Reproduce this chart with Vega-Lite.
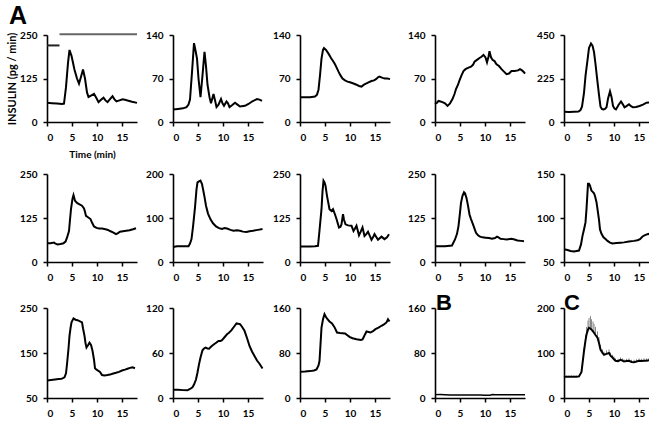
{
  "$schema": "https://vega.github.io/schema/vega-lite/v6.json",
  "background": "white",
  "padding": {"left": 6, "top": 4, "right": 2, "bottom": 2},
  "title": {"text": "A", "anchor": "start", "fontSize": 25, "font": "Liberation Sans", "fontWeight": "bold", "color": "#000", "offset": 1, "dx": 3},
  "config": {
    "view": {"stroke": null},
    "axis": {"grid": false, "labelOverlap": false, "domainColor": "#000", "domainWidth": 1.6, "tickColor": "#000", "tickWidth": 1.5, "tickSize": 4, "labelFont": "Lato", "labelFontWeight": "bold", "labelFontSize": 10, "labelColor": "#000", "labelPadding": 6, "titleFont": "Lato", "titleFontWeight": "bold", "titleFontSize": 10, "titleColor": "#000"},
    "axisY": {"minExtent": 30},
    "line": {"color": "#000", "strokeWidth": 2}
  },
  "columns": 5,
  "spacing": {"row": 10, "column": 2},
  "datasets": {
    "stim": [{"phase": "low", "t0": 0, "t1": 2.5, "v": 220}, {"phase": "high", "t0": 2.5, "t1": 18, "v": 252}],
    "p1": [{"t":0,"v":55},{"t":1,"v":54},{"t":2,"v":53},{"t":3,"v":52},{"t":3.4,"v":53},{"t":3.8,"v":100},{"t":4.2,"v":170},{"t":4.5,"v":207},{"t":4.9,"v":190},{"t":5.5,"v":150},{"t":6,"v":125},{"t":6.4,"v":110},{"t":6.8,"v":130},{"t":7.2,"v":151},{"t":7.6,"v":125},{"t":8,"v":85},{"t":8.3,"v":72},{"t":8.8,"v":76},{"t":9.4,"v":81},{"t":9.9,"v":68},{"t":10.3,"v":57},{"t":10.8,"v":64},{"t":11.3,"v":70},{"t":11.7,"v":62},{"t":12.1,"v":57},{"t":12.6,"v":66},{"t":13.1,"v":74},{"t":13.5,"v":65},{"t":13.9,"v":59},{"t":14.5,"v":62},{"t":15.1,"v":65},{"t":15.6,"v":64},{"t":16.1,"v":62},{"t":17,"v":58},{"t":18,"v":55}],
    "p2": [{"t":0,"v":20},{"t":1,"v":21},{"t":2,"v":22},{"t":2.7,"v":24},{"t":3.1,"v":28},{"t":3.4,"v":36},{"t":3.8,"v":80},{"t":4.2,"v":127},{"t":4.5,"v":115},{"t":4.8,"v":102},{"t":5.1,"v":70},{"t":5.5,"v":40},{"t":5.9,"v":75},{"t":6.3,"v":113},{"t":6.6,"v":90},{"t":6.9,"v":60},{"t":7.3,"v":40},{"t":7.6,"v":30},{"t":8.1,"v":45},{"t":8.4,"v":35},{"t":8.7,"v":24},{"t":9.1,"v":28},{"t":9.6,"v":37},{"t":9.9,"v":30},{"t":10.2,"v":26},{"t":10.7,"v":33},{"t":11,"v":30},{"t":11.3,"v":24},{"t":11.8,"v":27},{"t":12.4,"v":31},{"t":12.9,"v":28},{"t":13.4,"v":25},{"t":14.4,"v":26},{"t":15.1,"v":29},{"t":15.8,"v":33},{"t":16.8,"v":37},{"t":17.3,"v":36},{"t":17.8,"v":34}],
    "p3": [{"t":0,"v":40},{"t":1,"v":40},{"t":2,"v":40},{"t":3,"v":41},{"t":3.4,"v":44},{"t":3.7,"v":52},{"t":4,"v":75},{"t":4.3,"v":102},{"t":4.6,"v":116},{"t":4.8,"v":119},{"t":5.2,"v":116},{"t":5.7,"v":110},{"t":6.2,"v":103},{"t":6.7,"v":97},{"t":7,"v":93},{"t":7.3,"v":88},{"t":7.7,"v":81},{"t":8.1,"v":75},{"t":8.5,"v":70},{"t":9,"v":67},{"t":9.5,"v":65},{"t":10,"v":64},{"t":10.7,"v":62},{"t":11.3,"v":60},{"t":11.8,"v":58},{"t":12.3,"v":57},{"t":12.8,"v":60},{"t":13.3,"v":62},{"t":13.8,"v":64},{"t":14.3,"v":66},{"t":14.8,"v":67},{"t":15.2,"v":69},{"t":15.6,"v":72},{"t":15.9,"v":73},{"t":16.5,"v":71},{"t":17,"v":70},{"t":17.5,"v":70},{"t":18,"v":69}],
    "p4": [{"t":0,"v":29},{"t":0.4,"v":31},{"t":0.7,"v":34},{"t":1.1,"v":33},{"t":1.5,"v":32},{"t":2,"v":30},{"t":2.5,"v":26},{"t":3,"v":30},{"t":3.5,"v":37},{"t":3.9,"v":45},{"t":4.2,"v":53},{"t":4.6,"v":60},{"t":4.9,"v":67},{"t":5.3,"v":75},{"t":5.7,"v":82},{"t":6.1,"v":85},{"t":6.6,"v":87},{"t":7.2,"v":89},{"t":7.6,"v":92},{"t":7.9,"v":97},{"t":8.4,"v":100},{"t":8.9,"v":103},{"t":9.3,"v":105},{"t":9.7,"v":108},{"t":10.1,"v":104},{"t":10.4,"v":96},{"t":10.7,"v":105},{"t":10.9,"v":114},{"t":11.2,"v":104},{"t":11.5,"v":100},{"t":11.9,"v":98},{"t":12.3,"v":93},{"t":12.8,"v":90},{"t":13.3,"v":85},{"t":13.8,"v":81},{"t":14.3,"v":77},{"t":14.8,"v":78},{"t":15.3,"v":82},{"t":15.9,"v":82},{"t":16.6,"v":83},{"t":17,"v":85},{"t":17.4,"v":83},{"t":17.8,"v":80},{"t":18,"v":78}],
    "p5": [{"t":0,"v":53},{"t":1,"v":52},{"t":2,"v":53},{"t":2.9,"v":54},{"t":3.3,"v":62},{"t":3.6,"v":79},{"t":4,"v":150},{"t":4.3,"v":238},{"t":4.7,"v":320},{"t":5,"v":383},{"t":5.4,"v":406},{"t":5.7,"v":395},{"t":6,"v":362},{"t":6.3,"v":300},{"t":6.6,"v":229},{"t":7,"v":140},{"t":7.3,"v":79},{"t":7.6,"v":67},{"t":7.9,"v":65},{"t":8.2,"v":68},{"t":8.5,"v":76},{"t":8.8,"v":120},{"t":9.2,"v":159},{"t":9.5,"v":130},{"t":9.8,"v":83},{"t":10.1,"v":70},{"t":10.4,"v":65},{"t":10.9,"v":88},{"t":11.4,"v":106},{"t":11.8,"v":90},{"t":12.1,"v":76},{"t":12.5,"v":82},{"t":13,"v":92},{"t":13.4,"v":82},{"t":13.8,"v":76},{"t":14.4,"v":78},{"t":15.1,"v":83},{"t":15.8,"v":90},{"t":16.5,"v":100},{"t":17.2,"v":102},{"t":18,"v":102}],
    "p6": [{"t":0,"v":53},{"t":0.7,"v":53},{"t":1.4,"v":55},{"t":1.7,"v":52},{"t":2.1,"v":50},{"t":2.7,"v":51},{"t":3.3,"v":53},{"t":3.7,"v":58},{"t":4,"v":69},{"t":4.4,"v":88},{"t":4.6,"v":120},{"t":4.8,"v":150},{"t":5.1,"v":180},{"t":5.3,"v":190},{"t":5.6,"v":174},{"t":6,"v":168},{"t":6.5,"v":164},{"t":7,"v":160},{"t":7.4,"v":152},{"t":7.6,"v":143},{"t":7.8,"v":131},{"t":8.2,"v":127},{"t":8.7,"v":122},{"t":9,"v":112},{"t":9.4,"v":101},{"t":9.9,"v":97},{"t":10.4,"v":95},{"t":11,"v":95},{"t":11.7,"v":93},{"t":12.2,"v":91},{"t":12.6,"v":88},{"t":13.2,"v":84},{"t":13.8,"v":79},{"t":14.2,"v":82},{"t":14.6,"v":86},{"t":15.5,"v":88},{"t":16.5,"v":90},{"t":17.2,"v":93},{"t":17.8,"v":96}],
    "p7": [{"t":0,"v":34},{"t":0.8,"v":36},{"t":2,"v":36},{"t":3.1,"v":36},{"t":3.4,"v":42},{"t":3.7,"v":52},{"t":4,"v":80},{"t":4.4,"v":124},{"t":4.7,"v":165},{"t":4.9,"v":181},{"t":5.2,"v":183},{"t":5.5,"v":185},{"t":5.8,"v":177},{"t":6,"v":166},{"t":6.3,"v":148},{"t":6.6,"v":128},{"t":7,"v":110},{"t":7.5,"v":97},{"t":8,"v":88},{"t":8.6,"v":81},{"t":9.2,"v":77},{"t":9.8,"v":75},{"t":10.3,"v":77},{"t":10.8,"v":76},{"t":11.5,"v":73},{"t":12.1,"v":71},{"t":12.8,"v":72},{"t":13.4,"v":71},{"t":14,"v":69},{"t":14.7,"v":68},{"t":15.3,"v":70},{"t":16,"v":71},{"t":17,"v":73},{"t":17.9,"v":75}],
    "p8": [{"t":0,"v":44},{"t":1,"v":44},{"t":2,"v":44},{"t":3,"v":45},{"t":3.6,"v":46},{"t":3.9,"v":90},{"t":4.3,"v":150},{"t":4.5,"v":200},{"t":4.7,"v":231},{"t":4.9,"v":226},{"t":5.1,"v":217},{"t":5.4,"v":188},{"t":5.9,"v":150},{"t":6.3,"v":145},{"t":6.6,"v":150},{"t":7,"v":135},{"t":7.3,"v":122},{"t":7.8,"v":98},{"t":8.1,"v":100},{"t":8.3,"v":107},{"t":8.6,"v":136},{"t":8.8,"v":120},{"t":9.1,"v":107},{"t":9.6,"v":104},{"t":10.3,"v":103},{"t":10.7,"v":88},{"t":11,"v":95},{"t":11.3,"v":103},{"t":11.8,"v":76},{"t":12.1,"v":85},{"t":12.5,"v":98},{"t":12.9,"v":74},{"t":13.3,"v":80},{"t":13.6,"v":86},{"t":14.3,"v":63},{"t":14.6,"v":70},{"t":14.9,"v":79},{"t":15.6,"v":63},{"t":16.3,"v":72},{"t":16.9,"v":65},{"t":17.4,"v":70},{"t":17.8,"v":79}],
    "p9": [{"t":0,"v":45},{"t":1,"v":45},{"t":2,"v":45},{"t":3.4,"v":47},{"t":4,"v":64},{"t":4.4,"v":80},{"t":4.7,"v":102},{"t":5,"v":140},{"t":5.2,"v":168},{"t":5.5,"v":188},{"t":5.8,"v":198},{"t":6,"v":195},{"t":6.3,"v":182},{"t":6.6,"v":160},{"t":6.9,"v":135},{"t":7.2,"v":122},{"t":7.6,"v":107},{"t":7.9,"v":95},{"t":8.2,"v":83},{"t":8.6,"v":76},{"t":9,"v":72},{"t":9.5,"v":70},{"t":10.1,"v":69},{"t":10.8,"v":68},{"t":11.4,"v":66},{"t":12,"v":68},{"t":12.4,"v":72},{"t":12.7,"v":70},{"t":13.1,"v":66},{"t":13.7,"v":65},{"t":14.3,"v":64},{"t":15.3,"v":66},{"t":15.9,"v":64},{"t":16.5,"v":61},{"t":17.2,"v":60},{"t":17.8,"v":59}],
    "p10": [{"t":0,"v":64.4},{"t":0.7,"v":63.7},{"t":1.3,"v":62.5},{"t":2,"v":62},{"t":3,"v":63},{"t":3.4,"v":70},{"t":3.7,"v":79.7},{"t":4,"v":87},{"t":4.3,"v":95},{"t":4.5,"v":110},{"t":4.8,"v":139},{"t":5,"v":139},{"t":5.2,"v":136.7},{"t":5.5,"v":131},{"t":5.7,"v":130},{"t":6,"v":128},{"t":6.2,"v":125},{"t":6.5,"v":118},{"t":6.7,"v":110},{"t":7,"v":98},{"t":7.2,"v":87},{"t":7.5,"v":82},{"t":7.9,"v":78},{"t":8.3,"v":76},{"t":8.7,"v":74},{"t":9.2,"v":72},{"t":9.7,"v":71},{"t":10.5,"v":71.5},{"t":11.3,"v":72},{"t":12,"v":72.3},{"t":13,"v":73.2},{"t":14,"v":74},{"t":14.7,"v":74.7},{"t":15.2,"v":76},{"t":15.7,"v":79},{"t":16.2,"v":80.5},{"t":16.7,"v":81.6},{"t":17.3,"v":82.3},{"t":17.9,"v":82.7}],
    "p11": [{"t":0,"v":89},{"t":0.8,"v":90},{"t":1.6,"v":91},{"t":2.3,"v":92},{"t":2.9,"v":92.5},{"t":3.5,"v":96},{"t":3.8,"v":105},{"t":4,"v":125},{"t":4.3,"v":160},{"t":4.5,"v":188},{"t":4.7,"v":205},{"t":4.9,"v":218},{"t":5.3,"v":227},{"t":5.7,"v":224},{"t":6.1,"v":223},{"t":6.5,"v":221},{"t":7,"v":218},{"t":7.2,"v":205},{"t":7.5,"v":188},{"t":7.7,"v":172},{"t":7.9,"v":162},{"t":8.2,"v":167},{"t":8.5,"v":173},{"t":8.8,"v":168},{"t":9.1,"v":155},{"t":9.4,"v":135},{"t":9.6,"v":116},{"t":9.9,"v":113},{"t":10.2,"v":111},{"t":10.6,"v":108},{"t":11,"v":101},{"t":11.5,"v":100},{"t":12.1,"v":101},{"t":12.6,"v":102},{"t":13.1,"v":104},{"t":13.8,"v":106},{"t":14.4,"v":108},{"t":15,"v":111},{"t":15.6,"v":113},{"t":16.1,"v":115},{"t":16.6,"v":117},{"t":17.1,"v":118},{"t":17.6,"v":116}],
    "p12": [{"t":0,"v":11},{"t":1,"v":11},{"t":2,"v":10.5},{"t":2.9,"v":10.3},{"t":3.4,"v":12},{"t":3.9,"v":14.3},{"t":4.2,"v":18},{"t":4.6,"v":24.6},{"t":4.9,"v":34},{"t":5.2,"v":44.8},{"t":5.5,"v":54},{"t":5.9,"v":63.6},{"t":6.2,"v":66},{"t":6.5,"v":67.2},{"t":6.9,"v":66},{"t":7.2,"v":65.8},{"t":7.7,"v":69},{"t":8.2,"v":71.6},{"t":8.7,"v":74},{"t":9.1,"v":76.1},{"t":9.5,"v":76},{"t":9.8,"v":77},{"t":10.3,"v":81},{"t":10.8,"v":85},{"t":11.2,"v":87},{"t":11.7,"v":90.4},{"t":12.2,"v":95},{"t":12.7,"v":99.4},{"t":13,"v":99},{"t":13.4,"v":98.5},{"t":13.8,"v":95},{"t":14.3,"v":89.6},{"t":14.8,"v":80},{"t":15.3,"v":69.4},{"t":15.8,"v":62},{"t":16.3,"v":56},{"t":16.8,"v":50},{"t":17.3,"v":45.7},{"t":17.9,"v":39.4}],
    "p13": [{"t":0,"v":46.6},{"t":1,"v":47},{"t":2,"v":47.8},{"t":2.8,"v":49},{"t":3.3,"v":50.7},{"t":3.7,"v":58},{"t":3.9,"v":65.7},{"t":4.1,"v":95},{"t":4.3,"v":125},{"t":4.6,"v":140},{"t":4.9,"v":149},{"t":5.2,"v":144},{"t":5.5,"v":140},{"t":5.9,"v":136},{"t":6.4,"v":132.5},{"t":6.9,"v":126},{"t":7.4,"v":116.4},{"t":8,"v":115.5},{"t":9,"v":114.6},{"t":9.9,"v":108.7},{"t":10.5,"v":106.3},{"t":11.3,"v":104.5},{"t":12.2,"v":103.3},{"t":12.5,"v":104},{"t":12.7,"v":107.5},{"t":13,"v":113},{"t":13.3,"v":118.2},{"t":14.1,"v":116.4},{"t":14.6,"v":119},{"t":15.1,"v":122.4},{"t":15.7,"v":125},{"t":16.3,"v":128.4},{"t":16.8,"v":131},{"t":17.3,"v":134.3},{"t":17.6,"v":140},{"t":17.9,"v":136}],
    "p14": [{"t":0,"v":6},{"t":1,"v":6.2},{"t":2,"v":5.8},{"t":3,"v":5.5},{"t":4,"v":5.4},{"t":5,"v":5.3},{"t":6,"v":5.2},{"t":7,"v":5.3},{"t":8,"v":5.4},{"t":9,"v":5.2},{"t":10,"v":5},{"t":11,"v":4.8},{"t":11.5,"v":6},{"t":12,"v":5.8},{"t":13,"v":5.8},{"t":14,"v":5.6},{"t":15,"v":5.8},{"t":16,"v":5.7},{"t":17,"v":5.8},{"t":18,"v":5.8}],
    "p15": [{"t":0,"v":47,"hi":50},{"t":0.5,"v":47,"hi":50},{"t":1,"v":47,"hi":50},{"t":1.5,"v":47,"hi":50},{"t":2,"v":47,"hi":50},{"t":2.5,"v":47,"hi":50},{"t":3,"v":48,"hi":51},{"t":3.5,"v":58,"hi":62},{"t":4,"v":104,"hi":112},{"t":4.3,"v":128,"hi":140},{"t":4.5,"v":141,"hi":158},{"t":4.8,"v":152,"hi":172},{"t":5,"v":156,"hi":178},{"t":5.3,"v":154,"hi":182},{"t":5.5,"v":152,"hi":175},{"t":5.8,"v":148,"hi":170},{"t":6,"v":145,"hi":165},{"t":6.3,"v":140,"hi":158},{"t":6.7,"v":134,"hi":148},{"t":7,"v":122,"hi":135},{"t":7.3,"v":107.5,"hi":118},{"t":7.7,"v":100,"hi":108},{"t":8,"v":96,"hi":103},{"t":8.5,"v":98,"hi":106},{"t":9,"v":100,"hi":108},{"t":9.3,"v":94,"hi":101},{"t":9.7,"v":90,"hi":96},{"t":10,"v":86,"hi":92},{"t":10.3,"v":82.7,"hi":88},{"t":10.8,"v":82,"hi":87},{"t":11.3,"v":85,"hi":90},{"t":11.7,"v":83,"hi":88},{"t":12,"v":81,"hi":86},{"t":12.5,"v":82,"hi":87},{"t":13,"v":82.7,"hi":88},{"t":13.5,"v":80,"hi":85},{"t":14,"v":79.7,"hi":85},{"t":14.5,"v":81,"hi":86},{"t":15,"v":82.7,"hi":88},{"t":15.5,"v":82,"hi":87},{"t":16,"v":82.7,"hi":88},{"t":16.5,"v":83,"hi":88},{"t":17,"v":84,"hi":89},{"t":17.5,"v":84,"hi":89},{"t":18,"v":85,"hi":90}]
  },
  "concat": [
    {"width": 90, "height": 87, "layer": [
      {"data": {"name": "p1"}, "mark": {"type": "line"}, "encoding": {
        "x": {"field": "t", "type": "quantitative", "scale": {"domain": [0, 18]}, "axis": {"values": [0, 5, 10, 15], "title": "Time (min)", "titlePadding": 7}},
        "y": {"field": "v", "type": "quantitative", "scale": {"domain": [0, 250]}, "axis": {"values": [0, 125, 250], "title": "INSULIN (pg / min)", "titleFontSize": 11, "titlePadding": 0}}}},
      {"data": {"name": "stim"}, "mark": {"type": "rule", "strokeWidth": 2}, "encoding": {
        "x": {"field": "t0", "type": "quantitative", "scale": {"domain": [0, 18]}, "axis": {"values": [0, 5, 10, 15], "title": "Time (min)", "titlePadding": 7}}, "x2": {"field": "t1"},
        "y": {"field": "v", "type": "quantitative", "scale": {"domain": [0, 250]}, "axis": {"values": [0, 125, 250], "title": "INSULIN (pg / min)", "titleFontSize": 11, "titlePadding": 0}},
        "color": {"field": "phase", "type": "nominal", "scale": {"domain": ["low", "high"], "range": ["#222222", "#666666"]}, "legend": null}}}
    ]},
    {"width": 90, "height": 87, "data": {"name": "p2"}, "mark": {"type": "line"}, "encoding": {
      "x": {"field": "t", "type": "quantitative", "scale": {"domain": [0, 18]}, "axis": {"values": [0, 5, 10, 15], "title": null}},
      "y": {"field": "v", "type": "quantitative", "scale": {"domain": [0, 140]}, "axis": {"values": [0, 70, 140], "title": null}}}},
    {"width": 90, "height": 87, "data": {"name": "p3"}, "mark": {"type": "line"}, "encoding": {
      "x": {"field": "t", "type": "quantitative", "scale": {"domain": [0, 18]}, "axis": {"values": [0, 5, 10, 15], "title": null}},
      "y": {"field": "v", "type": "quantitative", "scale": {"domain": [0, 140]}, "axis": {"values": [0, 70, 140], "title": null, "minExtent": 31}}}},
    {"width": 90, "height": 87, "data": {"name": "p4"}, "mark": {"type": "line"}, "encoding": {
      "x": {"field": "t", "type": "quantitative", "scale": {"domain": [0, 18]}, "axis": {"values": [0, 5, 10, 15], "title": null}},
      "y": {"field": "v", "type": "quantitative", "scale": {"domain": [0, 140]}, "axis": {"values": [0, 70, 140], "title": null, "minExtent": 39}}}},
    {"width": 90, "height": 87, "data": {"name": "p5"}, "mark": {"type": "line"}, "encoding": {
      "x": {"field": "t", "type": "quantitative", "scale": {"domain": [0, 18]}, "axis": {"values": [0, 5, 10, 15], "title": null}},
      "y": {"field": "v", "type": "quantitative", "scale": {"domain": [0, 450]}, "axis": {"values": [0, 225, 450], "title": null, "minExtent": 33}}}},
    {"width": 90, "height": 88, "data": {"name": "p6"}, "mark": {"type": "line"}, "encoding": {
      "x": {"field": "t", "type": "quantitative", "scale": {"domain": [0, 18]}, "axis": {"values": [0, 5, 10, 15], "title": null}},
      "y": {"field": "v", "type": "quantitative", "scale": {"domain": [0, 250]}, "axis": {"values": [0, 125, 250], "title": null}}}},
    {"width": 90, "height": 88, "data": {"name": "p7"}, "mark": {"type": "line"}, "encoding": {
      "x": {"field": "t", "type": "quantitative", "scale": {"domain": [0, 18]}, "axis": {"values": [0, 5, 10, 15], "title": null}},
      "y": {"field": "v", "type": "quantitative", "scale": {"domain": [0, 200]}, "axis": {"values": [0, 100, 200], "title": null}}}},
    {"width": 90, "height": 88, "data": {"name": "p8"}, "mark": {"type": "line"}, "encoding": {
      "x": {"field": "t", "type": "quantitative", "scale": {"domain": [0, 18]}, "axis": {"values": [0, 5, 10, 15], "title": null}},
      "y": {"field": "v", "type": "quantitative", "scale": {"domain": [0, 250]}, "axis": {"values": [0, 125, 250], "title": null, "minExtent": 31}}}},
    {"width": 90, "height": 88, "data": {"name": "p9"}, "mark": {"type": "line"}, "encoding": {
      "x": {"field": "t", "type": "quantitative", "scale": {"domain": [0, 18]}, "axis": {"values": [0, 5, 10, 15], "title": null}},
      "y": {"field": "v", "type": "quantitative", "scale": {"domain": [0, 250]}, "axis": {"values": [0, 125, 250], "title": null, "minExtent": 39}}}},
    {"width": 90, "height": 88, "data": {"name": "p10"}, "mark": {"type": "line"}, "encoding": {
      "x": {"field": "t", "type": "quantitative", "scale": {"domain": [0, 18]}, "axis": {"values": [0, 5, 10, 15], "title": null}},
      "y": {"field": "v", "type": "quantitative", "scale": {"domain": [50, 150]}, "axis": {"values": [50, 100, 150], "title": null, "minExtent": 33}}}},
    {"width": 90, "height": 90, "data": {"name": "p11"}, "mark": {"type": "line"}, "encoding": {
      "x": {"field": "t", "type": "quantitative", "scale": {"domain": [0, 18]}, "axis": {"values": [0, 5, 10, 15], "title": null}},
      "y": {"field": "v", "type": "quantitative", "scale": {"domain": [50, 250]}, "axis": {"values": [50, 150, 250], "title": null}}}},
    {"width": 90, "height": 90, "data": {"name": "p12"}, "mark": {"type": "line"}, "encoding": {
      "x": {"field": "t", "type": "quantitative", "scale": {"domain": [0, 18]}, "axis": {"values": [0, 5, 10, 15], "title": null}},
      "y": {"field": "v", "type": "quantitative", "scale": {"domain": [0, 120]}, "axis": {"values": [0, 60, 120], "title": null}}}},
    {"width": 90, "height": 90, "data": {"name": "p13"}, "mark": {"type": "line"}, "encoding": {
      "x": {"field": "t", "type": "quantitative", "scale": {"domain": [0, 18]}, "axis": {"values": [0, 5, 10, 15], "title": null}},
      "y": {"field": "v", "type": "quantitative", "scale": {"domain": [0, 160]}, "axis": {"values": [0, 80, 160], "title": null, "minExtent": 31}}}},
    {"width": 90, "height": 90, "title": {"text": "B", "anchor": "start", "frame": "group", "fontSize": 22, "font": "Liberation Sans", "fontWeight": "bold", "color": "#000", "offset": -12, "dx": 1},
      "data": {"name": "p14"}, "mark": {"type": "line", "strokeWidth": 1.5}, "encoding": {
      "x": {"field": "t", "type": "quantitative", "scale": {"domain": [0, 18]}, "axis": {"values": [0, 5, 10, 15], "title": null}},
      "y": {"field": "v", "type": "quantitative", "scale": {"domain": [0, 160]}, "axis": {"values": [0, 80, 160], "title": null, "minExtent": 39}}}},
    {"width": 90, "height": 90, "title": {"text": "C", "anchor": "start", "frame": "group", "fontSize": 22, "font": "Liberation Sans", "fontWeight": "bold", "color": "#000", "offset": -12, "dx": 0},
      "layer": [
      {"data": {"name": "p15"}, "mark": {"type": "rule", "color": "#888888", "strokeWidth": 1}, "encoding": {
        "x": {"field": "t", "type": "quantitative", "scale": {"domain": [0, 18]}, "axis": {"values": [0, 5, 10, 15], "title": null}},
        "y": {"field": "v", "type": "quantitative", "scale": {"domain": [0, 200]}, "axis": {"values": [0, 100, 200], "title": null, "minExtent": 33}}, "y2": {"field": "hi"}}},
      {"data": {"name": "p15"}, "mark": {"type": "line"}, "encoding": {
        "x": {"field": "t", "type": "quantitative", "scale": {"domain": [0, 18]}, "axis": {"values": [0, 5, 10, 15], "title": null}},
        "y": {"field": "v", "type": "quantitative", "scale": {"domain": [0, 200]}, "axis": {"values": [0, 100, 200], "title": null, "minExtent": 33}}}}
    ]}
  ]
}
